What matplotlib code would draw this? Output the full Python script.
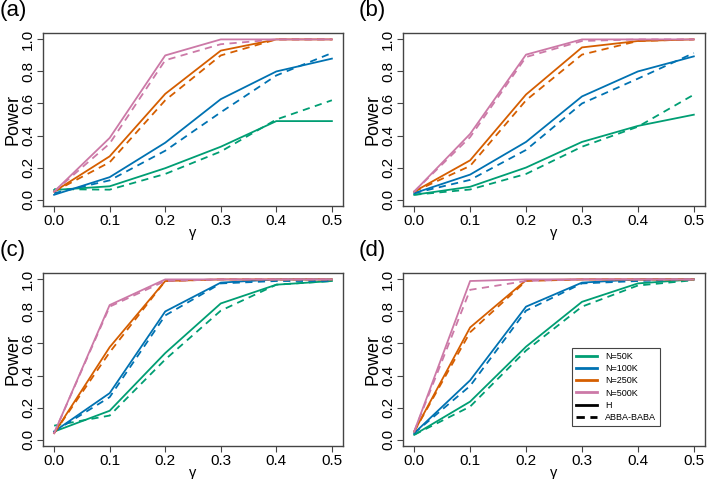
import numpy as np
import matplotlib
matplotlib.use('Agg')
import matplotlib.pyplot as plt
from matplotlib.lines import Line2D

plt.rcParams['font.family'] = ['Liberation Sans', 'DejaVu Sans']

gamma = [0.0, 0.1, 0.2, 0.3, 0.4, 0.5]
sizes = ['N=50K', 'N=100K', 'N=250K', 'N=500K']
colors = ['#009E73', '#0072B2', '#D55E00', '#CC79A7']
panels = ['(a)', '(b)', '(c)', '(d)']

# power of H statistic (solid) and ABBA-BABA (dashed), per panel, per N
h_a = [[0.06, 0.083, 0.196, 0.33, 0.49, 0.49],
       [0.03, 0.14, 0.355, 0.627, 0.80, 0.88],
       [0.05, 0.27, 0.66, 0.93, 1.0, 1.0],
       [0.05, 0.385, 0.90, 1.0, 1.0, 1.0]]
abba_a = [[0.065, 0.062, 0.16, 0.30, 0.50, 0.62],
          [0.04, 0.12, 0.305, 0.545, 0.775, 0.915],
          [0.05, 0.233, 0.62, 0.90, 1.0, 1.0],
          [0.05, 0.35, 0.87, 0.97, 1.0, 1.0]]

h_b = [[0.03, 0.08, 0.20, 0.36, 0.46, 0.53],
       [0.04, 0.156, 0.36, 0.644, 0.80, 0.894],
       [0.05, 0.245, 0.656, 0.95, 0.99, 1.0],
       [0.05, 0.41, 0.905, 1.0, 1.0, 1.0]]
abba_b = [[0.03, 0.063, 0.16, 0.33, 0.455, 0.655],
          [0.04, 0.123, 0.31, 0.60, 0.755, 0.915],
          [0.05, 0.21, 0.62, 0.905, 0.99, 1.0],
          [0.05, 0.39, 0.89, 0.99, 1.0, 1.0]]

h_c = [[0.05, 0.18, 0.54, 0.85, 0.967, 0.99],
       [0.05, 0.29, 0.80, 0.98, 1.0, 1.0],
       [0.04, 0.577, 0.99, 1.0, 1.0, 1.0],
       [0.04, 0.84, 1.0, 1.0, 1.0, 1.0]]
abba_c = [[0.087, 0.15, 0.50, 0.805, 0.967, 0.99],
          [0.05, 0.265, 0.775, 0.975, 0.99, 0.99],
          [0.04, 0.545, 0.99, 1.0, 1.0, 1.0],
          [0.04, 0.83, 0.99, 1.0, 1.0, 1.0]]

h_d = [[0.03, 0.237, 0.58, 0.86, 0.975, 1.0],
       [0.04, 0.37, 0.83, 0.98, 1.0, 1.0],
       [0.05, 0.70, 0.995, 1.0, 1.0, 1.0],
       [0.05, 0.99, 1.0, 1.0, 1.0, 1.0]]
abba_d = [[0.03, 0.206, 0.556, 0.83, 0.962, 0.995],
          [0.04, 0.335, 0.805, 0.975, 0.99, 1.0],
          [0.05, 0.67, 0.99, 1.0, 1.0, 1.0],
          [0.05, 0.935, 0.99, 1.0, 1.0, 1.0]]

h_all = [h_a, h_b, h_c, h_d]
abba_all = [abba_a, abba_b, abba_c, abba_d]

fig = plt.figure(figsize=(7.07, 4.79), dpi=100)
W, H = 707.0, 479.0
boxes = [(43, 33, 343, 206), (403, 33, 705, 206),
         (43, 273, 343, 446), (403, 273, 705, 446)]
label_pos = [(0, 0), (359, 0), (0, 240), (359, 240)]

for k in range(4):
    x0, y0, x1, y1 = boxes[k]
    ax = fig.add_axes([x0 / W, 1 - y1 / H, (x1 - x0) / W, (y1 - y0) / H])
    for i in range(4):
        ax.plot(gamma, h_all[k][i], color=colors[i], lw=1.3)
        ax.plot(gamma, abba_all[k][i], color=colors[i], lw=1.3,
                linestyle=(0, (4, 3)))
    ax.set_xlim(-0.02, 0.52)
    ax.set_ylim(-0.04, 1.04)
    ax.set_xticks(gamma)
    ax.set_xticklabels(['%.1f' % g for g in gamma])
    ax.set_yticks([0.0, 0.2, 0.4, 0.6, 0.8, 1.0])
    ax.set_yticklabels(['0.0', '0.2', '0.4', '0.6', '0.8', '1.0'],
                       rotation=90, va='center')
    ax.tick_params(labelsize=11, length=4, color='#444444', pad=1.5)
    for s in ax.spines.values():
        s.set_color('#444444')
        s.set_linewidth(1.0)
    ax.set_xlabel('γ', fontsize=10.5, labelpad=-1)
    ax.set_ylabel('Power', fontsize=13, labelpad=0)
    lx, ly = label_pos[k]
    fig.text(lx / W, 1 - ly / H, panels[k], fontsize=16, va='top', ha='left')

    if k == 3:
        handles = [Line2D([], [], color=c, lw=2) for c in colors]
        handles.append(Line2D([], [], color='black', lw=2))
        handles.append(Line2D([], [], color='black', lw=2, linestyle=(0, (3, 2))))
        leg = ax.legend(handles, sizes + ['H', 'ABBA-BABA'],
                        loc='upper left', bbox_to_anchor=(0.56, 0.566),
                        borderaxespad=0, fontsize=6.5, frameon=True,
                        fancybox=False, handlelength=2.3, labelspacing=0.35,
                        borderpad=0.45, handletextpad=0.9)
        leg.get_frame().set_edgecolor('#444444')
        leg.get_frame().set_linewidth(0.8)
        leg.get_frame().set_alpha(1)

fig.savefig('out.png', dpi=100)
